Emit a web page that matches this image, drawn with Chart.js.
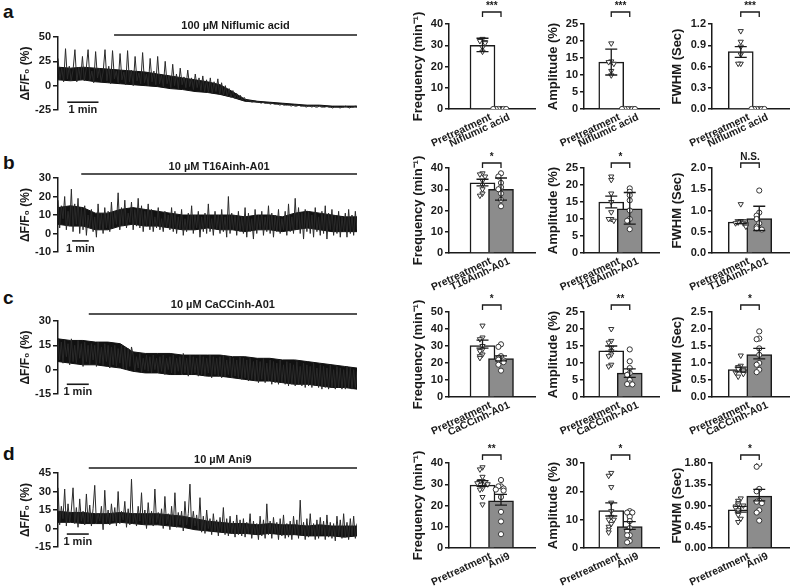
<!DOCTYPE html>
<html>
<head>
<meta charset="utf-8">
<script src="https://cdn.jsdelivr.net/npm/chart.js@4.4.1/dist/chart.umd.min.js"></script>
<style>
  body { margin: 0; width: 800px; height: 587px; position: relative; overflow: hidden; background: #fff;
         font-family: "Liberation Sans", Arial, sans-serif; }
  canvas { position: absolute; }
  .panel { position: absolute; font-weight: bold; font-size: 19px; color: #111; line-height: 1; }
</style>
</head>
<body>
<div class="panel" style="left:3px;top:2px">a</div>
<div class="panel" style="left:3px;top:153px">b</div>
<div class="panel" style="left:3px;top:288px">c</div>
<div class="panel" style="left:3px;top:444px">d</div>

<canvas id="traceA"></canvas><canvas id="traceB"></canvas><canvas id="traceC"></canvas><canvas id="traceD"></canvas>
<canvas id="f0"></canvas><canvas id="m0"></canvas><canvas id="w0"></canvas>
<canvas id="f1"></canvas><canvas id="m1"></canvas><canvas id="w1"></canvas>
<canvas id="f2"></canvas><canvas id="m2"></canvas><canvas id="w2"></canvas>
<canvas id="f3"></canvas><canvas id="m3"></canvas><canvas id="w3"></canvas>

<script>
// ---- calcium traces, ΔF/F0 (%), evenly spaced samples ----
const traceA = [28,6,18,4,38,7,20,5,16,37,4,19,6,30,5,17,37,6,15,3,35,8,18,4,14,37,5,20,2,36,7,15,
  3,33,6,14,1,36,4,16,0,30,5,13,2,34,3,12,0,28,4,15,1,30,2,11,
  -1,25,2,10,-2,22,0,12,-3,18,1,9,-2,16,-1,8,
  -4,12,-2,8,-5,10,-6,6,-7,8,-8,4,-6,7,-9,3,
  -10,0,-11,-3,-12,-5,-13,-8,-14,-10,-15,-12,
  -15,-16,-15,-17,-16,-16,-17,-17,-18,-17,-18,-18,-18,-19,-18,-19,-19,-19,-20,-19,-20,-20,-20,-20,-21,-20,-21,-21,-20,-21,
  -21,-21,-22,-21,-21,-22,-21,-22,-22,-21,-22,-22,-22,-21,-22,-22,-23,-22,-22,-22,-23,-22,-22,-21,-22,-23,-22,-22,-21,-22];
const traceB = [18,3,15,8,20,2,12,4,24,1,16,5,19,0,14,2,
  15,-1,10,3,13,1,9,-2,16,2,11,0,14,3,12,1,
  17,3,12,5,22,2,14,4,18,3,11,6,17,2,13,4,19,3,15,1,12,4,16,2,
  13,1,9,3,14,2,8,1,12,3,10,2,14,1,
  12,0,9,2,13,-1,8,1,11,2,15,0,10,3,12,-2,9,1,11,0,
  16,1,8,-1,12,2,10,0,13,1,9,-2,20,0,11,2,10,-1,12,1,
  9,0,14,-2,11,1,8,-3,13,0,10,2,12,-1,9,1,15,0,11,-2,
  10,1,13,0,8,2,12,-1,16,1,9,0,19,2,14,0,11,-3,13,1,
  12,0,10,-2,14,1,9,-1,12,0,15,-3,11,2,13,-1,10,0,12,-2,
  9,1,11,-2,13,0,10,-1,12,2];
const traceC = [19,6,17,4,18,8,16,3,19,5,15,4,18,7,16,2,17,5,15,3,16,6,15,2,17,4,14,3,16,5,15,1,14,3,15,2,13,4,15,1,14,0,13,2,14,
  9,-1,8,1,10,-2,7,0,9,-1,8,-2,9,0,7,-2,8,-1,9,-3,7,0,8,-2,9,-3,7,-1,8,-3,10,-2,7,-4,9,-3,8,-2,7,-4,9,-3,8,-4,7,-2,9,-5,8,-3,7,-4,8,-5,9,-4,6,-3,8,-5,7,-4,6,-5,8,-6,
  7,-5,6,-7,7,-6,5,-7,6,-8,5,-6,7,-8,4,-7,6,-9,5,-8,4,-9,6,-8,3,-9,5,-10,4,-9,3,-10,5,-9,2,-10,4,-11,3,-10,2,-11,4,-10,1,-11,3,-12,2,-11,1,-12,3,-11,0,-12,2,-11,1,-12,0,-12,2,-11,1,-12,0,-11,-1];
const traceD = [33,3,18,8,32,2,20,5,15,33,4,17,1,24,6,14,3,28,5,19,2,16,35,4,12,6,18,-1,31,5,15,3,20,6,17,2,30,4,14,7,22,1,16,3,40,5,12,2,18,6,29,3,15,0,21,4,14,2,32,5,13,
  3,16,0,26,4,12,-1,18,2,29,1,13,3,14,-2,22,3,12,36,0,14,2,11,-1,25,
  -3,10,-4,15,0,8,-5,12,-2,7,-6,9,-3,17,-5,8,-6,10,-4,6,-7,11,-5,7,-6,
  8,-7,5,-4,12,-8,6,-5,4,-9,10,-6,7,-8,20,-5,6,-8,9,-4,5,-9,8,-6,11,-8,4,-7,6,-9,10,-5,7,-8,23,-6,5,-9,8,-7,12,-6,4,-9,7,-8,9,-5,6,-9,11,-7,5,-8,4,-10,10,-6,7,-8,12,-7,5,-9,8,-6,10,-8,4];

// dense core of each trace (where the black band is solid), 25 evenly spaced readings
const coreHiA = [19,18,19,18,17,16,15,14,12,10,8,6,4,1,-6,-14,-16,-17,-18,-19,-20,-20,-21,-21,-21];
const coreLoA = [6,5,6,4,3,2,1,0,-1,-3,-4,-6,-7,-9,-12,-16,-17,-18,-19,-20,-21,-21,-22,-22,-22];
const coreHiB = [14,15,14,11,11,13,14,13,12,11,10,10,10,10,10,9,10,10,9,11,12,11,10,9,9];
const coreLoB = [5,4,4,2,2,4,5,4,4,3,2,2,3,2,2,1,2,2,1,2,3,2,1,1,1];
const coreHiC = [19,18,18,17,17,16,11,10,10,10,9,9,9,9,8,8,7,7,6,6,5,4,3,2,1];
const coreLoC = [5,4,3,3,2,1,-1,-2,-2,-3,-3,-3,-4,-4,-5,-6,-7,-7,-8,-9,-9,-10,-11,-11,-12];
const coreHiD = [14,13,13,12,12,13,12,12,12,11,10,8,6,5,4,4,3,4,3,3,2,3,2,2,2];
const coreLoD = [5,5,4,4,4,5,4,3,3,2,1,-1,-2,-3,-4,-4,-5,-4,-5,-5,-6,-6,-6,-7,-6];

const traceMinutes = [9.6, 18, 13.6, 13.6];   // recording length
const drugOnset = [1.8, 1.4, 1.4, 1.4];       // minutes
const drugNames = ["100 µM Niflumic acid", "10 µM T16Ainh-A01", "10 µM CaCCinh-A01", "10 µM Ani9"];
const traceYMin = [-25, -10, -15, -15];
const traceYMax = [50, 30, 30, 45];
const traceYStep = [25, 10, 15, 15];

// ---- per-cell summary values: [row a, b, c, d] ----
const groupLabels = ["Niflumic acid", "T16Ainh-A01", "CaCCinh-A01", "Ani9"];

const freqPre = [[33, 32, 31.5, 31, 29, 27],
  [37.5, 37, 36, 34, 32, 30, 28, 27],
  [42, 35, 34, 30, 28, 27, 25, 24, 23],
  [38, 37, 33.5, 31.5, 31.5, 31, 30.5, 30, 28, 27.5, 24, 20.5]];
const freqDrug = [[0, 0, 0, 0, 0, 0],
  [37.5, 36, 33, 31, 30, 28, 25, 22],
  [31, 29.5, 24, 23, 22, 21.5, 20.5, 19, 15.5],
  [32, 29, 29, 28, 27.5, 27, 24, 17, 12.5, 6.5]];
const freqMean = [[30, 0], [33, 30], [30.2, 22.6], [29.6, 22.2]];
const freqErr = [[[27, 33.3], null], [[31.6, 34.7], [24.9, 35.3]], [[28.7, 33.5], [21.3, 24.2]], [[29, 31.7], [20.2, 25.2]]];

const ampPre = [[19.3, 14, 13.8, 13.3, 11.2, 9.9],
  [22.5, 21.5, 17.5, 15, 12, 10, 10, 9.5],
  [20, 16.5, 16, 14.5, 13.5, 12.5, 12, 9.5, 9],
  [26.5, 25.5, 21.5, 16, 13, 11, 10, 10, 8.5, 7.5, 6.5, 5.5]];
const ampDrug = [[0, 0, 0, 0, 0, 0],
  [19, 18, 17, 15.5, 12.5, 10, 9.5, 7],
  [14, 10.5, 8.5, 7, 6.5, 5, 4, 3.8, 3.7],
  [13, 12.5, 12.5, 11, 9.5, 7, 6, 4.5, 4.5, 2.5, 2]];
const ampMean = [[13.8, 0], [15, 13], [13.6, 7.0], [13.2, 7.6]];
const ampErr = [[[10, 17.6], null], [[13.3, 16.7], [8.5, 17.8]], [[13.4, 15], [5.8, 8.3]], [[11.3, 15.9], [6.6, 9.3]]];

const fwhmPre = [[1.1, 0.95, 0.88, 0.77, 0.64, 0.64],
  [1.15, 0.75, 0.72, 0.7, 0.7, 0.68, 0.65, 0.62],
  [1.22, 0.92, 0.88, 0.82, 0.8, 0.75, 0.72, 0.68, 0.6],
  [1.05, 1.0, 0.95, 0.92, 0.9, 0.88, 0.85, 0.8, 0.75, 0.7, 0.62, 0.55]];
const fwhmDrug = [[0, 0, 0, 0, 0, 0],
  [1.47, 0.95, 0.88, 0.8, 0.7, 0.62, 0.58, 0.55],
  [1.93, 1.72, 1.7, 1.43, 1.24, 1.0, 0.95, 0.8, 0.73],
  [1.78, 1.72, 1.25, 1.2, 1.0, 0.98, 0.95, 0.8, 0.75, 0.58]];
const fwhmMean = [[0.81, 0], [0.73, 0.81], [0.81, 1.25], [0.81, 1.1]];
const fwhmErr = [[[0.73, 0.88], null], [[0.69, 0.78], [0.53, 1.1]], [[0.74, 0.88], [1.12, 1.43]], [[0.76, 0.88], [1.0, 1.24]]];

const freqStars = ["***", "*", "*", "**"];
const ampStars = ["***", "*", "**", "*"];
const fwhmStars = ["***", "N.S.", "*", "*"];

const freqMax = [40, 40, 50, 40], freqStep = [10, 10, 10, 10];
const ampMax = [25, 25, 25, 30], ampStep = [5, 5, 5, 10];
const fwhmMax = [1.2, 2.0, 2.5, 1.8], fwhmStep = [0.3, 0.5, 0.5, 0.45], fwhmDec = [1, 1, 1, 2];

// ---- layout (pixels) ----
const FONT = '"Liberation Sans", Arial, sans-serif';
const INK = '#1a1a1a';
const traceTop = [37, 178, 321, 473];       // y of top tick
const traceH = [73, 74, 73, 74];
const traceBarGap = [2, 4, 7, 5];
const traceLabelGap = [11, 11, 16, 13];
const scaleBarStart = [0.3, 0.85, 0.4, 0.4];
const scaleBarY = [-17, -4, -9, -4.5];
const rowTop = [24, 168, 312, 463];        // y of top tick in bar graphs
const bracketGap = [12, 5, 7, 8];
const colAxis = [449, 584, 712];
const colFirst = [473, 601, 731];
const colEnd = [535, 659, 789];
const colTitlePad = [10, 10, 6];
const BAR_STEP = 37, PLOT_H = 85;

const traceDecor = {
    id: 'traceDecor',
    afterDraw(chart, args, o) {
        const { ctx, chartArea, scales } = chart;
        ctx.save();
        ctx.strokeStyle = INK;
        ctx.fillStyle = INK;
        ctx.lineWidth = 1.6;
        const x0 = scales.x.getPixelForValue(o.onset);
        const x1 = scales.x.getPixelForValue(o.end);
        const by = chartArea.top - o.barGap;
        ctx.beginPath(); ctx.moveTo(x0, by); ctx.lineTo(x1, by); ctx.stroke();
        ctx.font = 'bold 11px ' + FONT;
        ctx.textAlign = 'center';
        ctx.textBaseline = 'middle';
        ctx.fillText(o.label, (x0 + x1) / 2, chartArea.top - o.labelGap);
        // 1 min scale bar
        const s0 = scales.x.getPixelForValue(o.sbStart);
        const s1 = scales.x.getPixelForValue(o.sbStart + 1);
        const sy = scales.y.getPixelForValue(o.sbY);
        ctx.beginPath(); ctx.moveTo(s0, sy); ctx.lineTo(s1, sy); ctx.stroke();
        ctx.fillText('1 min', (s0 + s1) / 2, sy + 8);
        ctx.restore();
    }
};

const barDecor = {
    id: 'barDecor',
    afterDatasetsDraw(chart, args, o) {
        const { ctx, chartArea, scales } = chart;
        ctx.save();
        ctx.strokeStyle = INK;
        ctx.fillStyle = INK;
        ctx.lineWidth = 1.3;
        o.err.forEach((e, i) => {
            if (!e) return;
            const x = scales.x.getPixelForValue(i);
            const lo = scales.y.getPixelForValue(e[0]);
            const hi = scales.y.getPixelForValue(e[1]);
            ctx.beginPath();
            ctx.moveTo(x, lo); ctx.lineTo(x, hi);
            ctx.moveTo(x - 6, lo); ctx.lineTo(x + 6, lo);
            ctx.moveTo(x - 6, hi); ctx.lineTo(x + 6, hi);
            ctx.stroke();
        });
        const bx0 = scales.x.getPixelForValue(0);
        const bx1 = scales.x.getPixelForValue(1);
        const by = chartArea.top - o.gap;
        ctx.beginPath();
        ctx.moveTo(bx0, by + 5); ctx.lineTo(bx0, by); ctx.lineTo(bx1, by); ctx.lineTo(bx1, by + 5);
        ctx.stroke();
        ctx.font = 'bold 10px ' + FONT;
        ctx.textAlign = 'center';
        ctx.textBaseline = 'bottom';
        ctx.fillText(o.stars, (bx0 + bx1) / 2, by - 0.5);
        ctx.restore();
    },
    afterDraw(chart, args, o) {
        // slanted group names, right end under each bar
        const { ctx, chartArea, scales } = chart;
        ctx.save();
        ctx.fillStyle = INK;
        ctx.font = 'bold 10.5px ' + FONT;
        ctx.textAlign = 'right';
        ctx.textBaseline = 'top';
        o.names.forEach((t, i) => {
            ctx.save();
            ctx.translate(scales.x.getPixelForValue(i) + 6, chartArea.bottom + 3);
            ctx.rotate(-25 * Math.PI / 180);
            ctx.fillText(t, 0, 0);
            ctx.restore();
        });
        ctx.restore();
    }
};

function timed(values, minutes) {
    const dt = minutes / (values.length - 1);
    return values.map((v, i) => ({ x: i * dt, y: v }));
}

function makeTrace(id, row, values, coreHi, coreLo) {
    const PT = 30, PB = 16;
    const cv = document.getElementById(id);
    cv.width = 366; cv.height = PT + traceH[row] + PB;
    cv.style.left = '0px';
    cv.style.top = (traceTop[row] - PT) + 'px';
    const mins = traceMinutes[row];
    new Chart(cv.getContext('2d'), {
        type: 'line',
        data: {
            datasets: [{
                data: timed(values, mins),
                borderColor: '#2a2a2a',
                borderWidth: 1,
                pointRadius: 0,
                tension: 0,
                order: 0
            }, {
                data: timed(coreHi, mins),
                borderColor: '#111',
                borderWidth: 1,
                backgroundColor: '#111',
                pointRadius: 0,
                fill: '+1',
                order: 1
            }, {
                data: timed(coreLo, mins),
                borderColor: '#111',
                borderWidth: 1,
                pointRadius: 0,
                order: 2
            }]
        },
        options: {
            responsive: false,
            animation: false,
            events: [],
            layout: { padding: { left: 0, right: 9, top: PT, bottom: PB } },
            plugins: {
                legend: { display: false },
                tooltip: { enabled: false },
                traceDecor: {
                    onset: drugOnset[row], end: mins, label: drugNames[row],
                    barGap: traceBarGap[row], labelGap: traceLabelGap[row],
                    sbStart: scaleBarStart[row], sbY: scaleBarY[row]
                }
            },
            scales: {
                x: { type: 'linear', display: false, min: 0, max: mins },
                y: {
                    min: traceYMin[row], max: traceYMax[row],
                    ticks: { stepSize: traceYStep[row], color: INK, padding: 2, font: { family: FONT, size: 11, weight: 'bold' } },
                    grid: { drawOnChartArea: false, tickLength: 5, color: INK, lineWidth: 1.5 },
                    border: { color: INK, width: 1.5 },
                    title: { display: true, text: 'ΔF/F₀ (%)', color: INK, padding: { top: 18, bottom: 0 },
                             font: { family: FONT, size: 12, weight: 'bold' } },
                    afterFit: s => { s.width = 58; s.paddingTop = 0; s.paddingBottom = 0; }
                }
            }
        },
        plugins: [traceDecor]
    });
}

function spread(vals, center, range) {
    const seq = [0, -1, 1, -2, 2, -3, 3];
    const pts = [];
    vals.forEach((v, i) => {
        let n = 0;
        for (let j = 0; j < i; j++) if (Math.abs(vals[j] - v) < range * 0.04) n++;
        pts.push({ x: center + seq[n % seq.length] * 0.14, y: v });
    });
    return pts;
}

function makeBars(id, row, col, cfg) {
    const W = 48, PL = 22, PT = 26, XH = 42;
    const cv = document.getElementById(id);
    const axis = colAxis[col], first = colFirst[col], end = colEnd[col];
    cv.width = PL + W + (end - axis) + 6;
    cv.height = PT + PLOT_H + XH;
    cv.style.left = (axis - W - PL) + 'px';
    cv.style.top = (rowTop[row] - PT) + 'px';
    const xMin = -(first - axis) / BAR_STEP;
    const xMax = 1 + (end - first - BAR_STEP) / BAR_STEP;
    new Chart(cv.getContext('2d'), {
        type: 'bar',
        data: {
            datasets: [{
                type: 'bar',
                data: cfg.mean.map((m, i) => ({ x: i, y: m })),
                backgroundColor: ['#ffffff', '#8c8c8c'],
                borderColor: INK,
                borderWidth: 1.5,
                borderSkipped: 'bottom',
                barThickness: 25,
                order: 3
            }, {
                type: 'scatter',
                data: spread(cfg.pre, 0, cfg.max),
                pointStyle: 'triangle',
                rotation: 180,
                pointRadius: 3,
                pointBorderWidth: 1,
                pointBorderColor: '#333',
                pointBackgroundColor: '#fff',
                order: 1
            }, {
                type: 'scatter',
                data: spread(cfg.drug, 1, cfg.max),
                pointStyle: 'circle',
                pointRadius: 2.6,
                pointBorderWidth: 1,
                pointBorderColor: '#333',
                pointBackgroundColor: '#fff',
                order: 2
            }]
        },
        options: {
            responsive: false,
            animation: false,
            events: [],
            layout: { padding: { left: PL, right: 6, top: PT, bottom: 0 } },
            plugins: {
                legend: { display: false },
                tooltip: { enabled: false },
                barDecor: { err: cfg.err, stars: cfg.stars, gap: bracketGap[row], names: ['Pretreatment', groupLabels[row]] }
            },
            scales: {
                x: {
                    type: 'linear', min: xMin, max: xMax,
                    afterBuildTicks: s => { s.ticks = [{ value: 0 }, { value: 1 }]; },
                    ticks: { display: false },
                    grid: { display: false },
                    border: { color: INK, width: 1.5 },
                    afterFit: s => { s.height = XH; s.paddingLeft = 0; s.paddingRight = 0; }
                },
                y: {
                    min: 0, max: cfg.max,
                    ticks: {
                        stepSize: cfg.step, color: INK, padding: 2,
                        font: { family: FONT, size: 11, weight: 'bold' },
                        callback: v => v.toFixed(cfg.dec)
                    },
                    grid: { drawOnChartArea: false, tickLength: 4, color: INK, lineWidth: 1.5 },
                    border: { color: INK, width: 1.5 },
                    title: { display: true, text: cfg.title, color: INK, padding: { top: colTitlePad[col], bottom: 0 },
                             font: { family: FONT, size: 13, weight: 'bold' } },
                    afterFit: s => { s.width = W; s.paddingTop = 0; s.paddingBottom = 0; }
                }
            }
        },
        plugins: [barDecor]
    });
}

document.addEventListener("DOMContentLoaded", function () {
    makeTrace('traceA', 0, traceA, coreHiA, coreLoA);
    makeTrace('traceB', 1, traceB, coreHiB, coreLoB);
    makeTrace('traceC', 2, traceC, coreHiC, coreLoC);
    makeTrace('traceD', 3, traceD, coreHiD, coreLoD);

    for (let r = 0; r < 4; r++) {
        makeBars('f' + r, r, 0, {
            title: 'Frequency (min⁻¹)', pre: freqPre[r], drug: freqDrug[r], mean: freqMean[r], err: freqErr[r],
            stars: freqStars[r], max: freqMax[r], step: freqStep[r], dec: 0
        });
        makeBars('m' + r, r, 1, {
            title: 'Amplitude (%)', pre: ampPre[r], drug: ampDrug[r], mean: ampMean[r], err: ampErr[r],
            stars: ampStars[r], max: ampMax[r], step: ampStep[r], dec: 0
        });
        makeBars('w' + r, r, 2, {
            title: 'FWHM (Sec)', pre: fwhmPre[r], drug: fwhmDrug[r], mean: fwhmMean[r], err: fwhmErr[r],
            stars: fwhmStars[r], max: fwhmMax[r], step: fwhmStep[r], dec: fwhmDec[r]
        });
    }
});
</script>
</body>
</html>
